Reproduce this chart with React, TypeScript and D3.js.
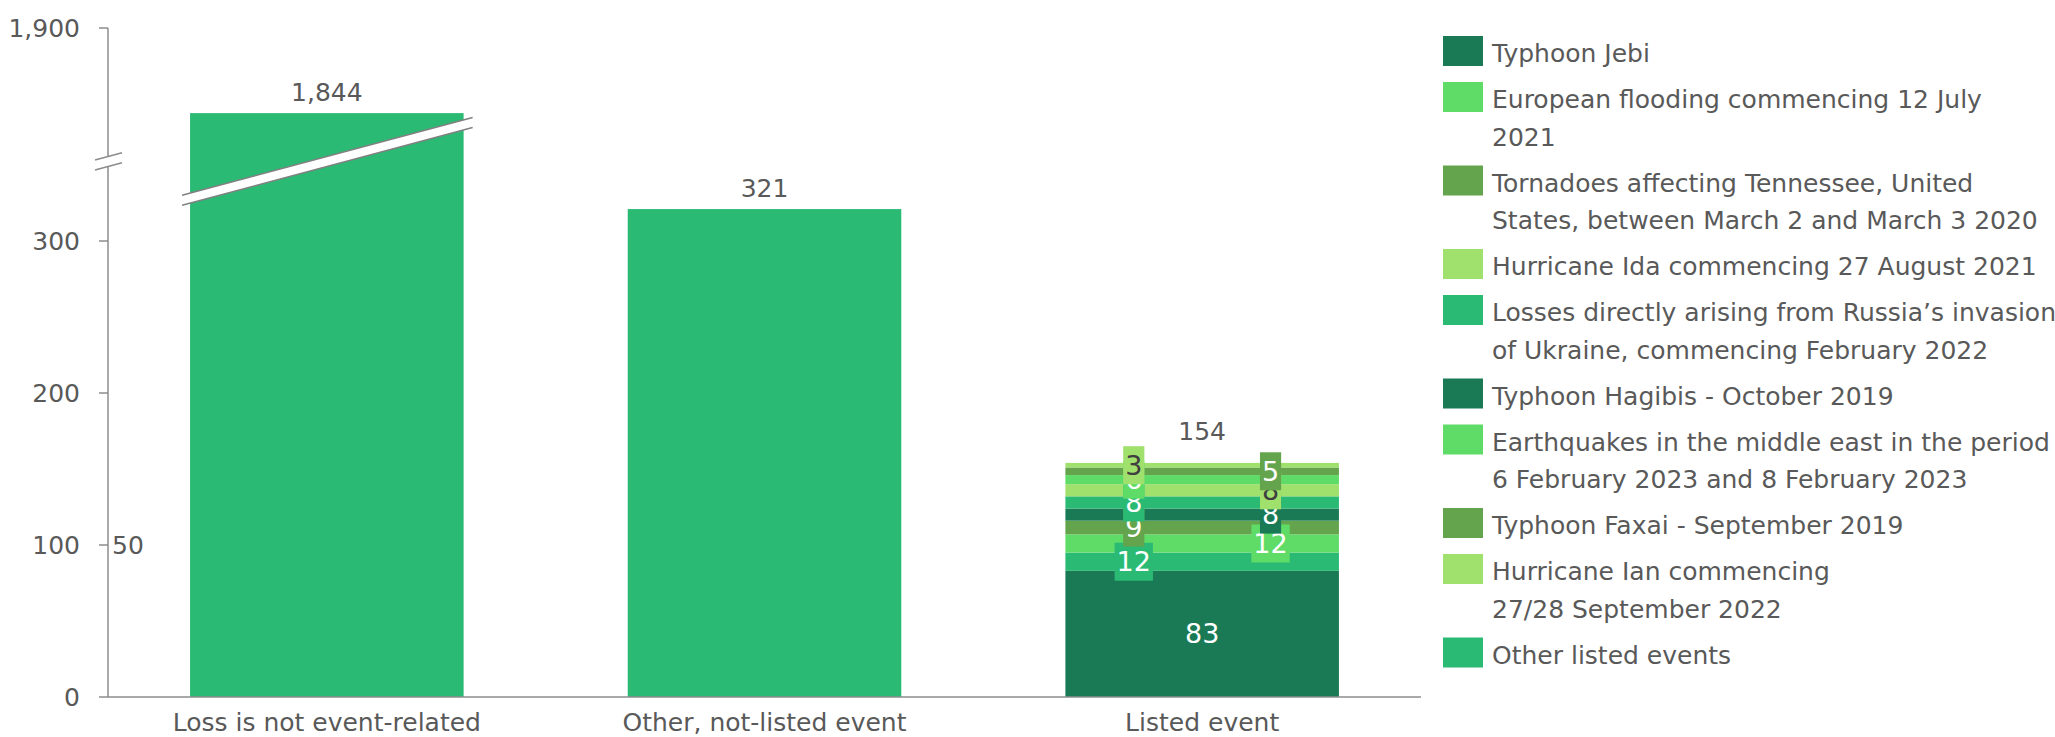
import React from "react";
import * as d3 from "d3";

const categories = ["Loss is not event-related", "Other, not-listed event", "Listed event"];
const simpleValues = [1844, 321];

const seriesNames = [
  "Typhoon Jebi",
  "European flooding",
  "Tornadoes Tennessee",
  "Hurricane Ida",
  "Russia Ukraine",
  "Typhoon Hagibis",
  "Earthquakes middle east",
  "Typhoon Faxai",
  "Hurricane Ian",
  "Other listed events",
];
const seriesLegendLines: string[][] = [
  ["Typhoon Jebi"],
  ["European flooding commencing 12 July", "2021"],
  ["Tornadoes affecting Tennessee, United", "States, between March 2 and March 3 2020"],
  ["Hurricane Ida commencing 27 August 2021"],
  ["Losses directly arising from Russia\u2019s invasion", "of Ukraine, commencing February 2022"],
  ["Typhoon Hagibis - October 2019"],
  ["Earthquakes in the middle east in the period", "6 February 2023 and 8 February 2023"],
  ["Typhoon Faxai - September 2019"],
  ["Hurricane Ian commencing", "27/28 September 2022"],
  ["Other listed events"],
];
const seriesValues = [83, 12, 9, 8, 8, 8, 6, 5, 3, 12];
const seriesColors = [
  "#1a7a56",
  "#5fdc68",
  "#64a44c",
  "#a0e06c",
  "#2aba74",
  "#1a7a56",
  "#5fdc68",
  "#64a44c",
  "#a0e06c",
  "#2aba74",
];
const seriesDarkText = [false, false, false, true, false, false, false, false, true, false];
const stackOrder = [
  "Typhoon Jebi",
  "Other listed events",
  "European flooding",
  "Tornadoes Tennessee",
  "Typhoon Hagibis",
  "Russia Ukraine",
  "Hurricane Ida",
  "Earthquakes middle east",
  "Typhoon Faxai",
  "Hurricane Ian",
];
const lowerTicks = [0, 100, 200, 300];
const upperTicks = [1900];
const strayLabel = "50";

const FONT = "'DejaVu Sans', sans-serif";
const TEXT = "#595959";
const AXIS = "#8c8c8c";
const BAR = "#2aba74";

export default function App() {
  const W = 2055;
  const H = 737;
  const axisX = 108;
  const baseY = 697;
  const breakValue = 1000;

  const x = d3.scaleBand<string>().domain(categories).range([axisX, 1421]).paddingInner(0.375).paddingOuter(0.1875);
  const yLow = d3.scaleLinear().domain([0, 300]).range([baseY, baseY - 456]);
  const yUp = d3.scaleLinear().domain([1800, 1900]).range([28 + 152, 28]);
  const yAny = (v: number) => (v > breakValue ? yUp(v) : yLow(v));
  const fmt = d3.format(",");
  const bw = x.bandwidth();

  const row: Record<string, number> = {};
  seriesNames.forEach((n, i) => (row[n] = seriesValues[i]));
  const stacked = d3.stack<Record<string, number>>().keys(stackOrder)([row]);
  const total = d3.sum(seriesValues);

  const breakY = 161.5;
  const slope = -0.268;

  // legend layout
  const legendX = 1443;
  let ly = 36;
  const legendItems = seriesNames.map((n, i) => {
    const lines = seriesLegendLines[i];
    const item = { y: ly, lines, color: seriesColors[i] };
    ly += 46 + 37.5 * (lines.length - 1);
    return item;
  });

  const b1x = x(categories[0])!;
  const b1c = b1x + bw / 2;
  const bandL = b1x - 8;
  const bandR = b1x + bw + 9;
  const yAt = (xx: number, off: number) => breakY + off + slope * (xx - b1c);

  const b3x = x(categories[2])!;
  const b3c = b3x + bw / 2;

  return (
    <svg
      width={W}
      height={H}
      style={{ position: "absolute", left: 0, top: 0, display: "block", background: "#fff" }}
      fontFamily={FONT}
    >
      {/* simple bars */}
      {simpleValues.map((v, i) => {
        const bx = x(categories[i])!;
        const top = yAny(v);
        return (
          <g key={i}>
            <rect x={bx} y={top} width={bw} height={baseY - top} fill={BAR} />
            <text x={bx + bw / 2} y={top - 12} textAnchor="middle" fontSize={25} fill={TEXT}>
              {fmt(v)}
            </text>
          </g>
        );
      })}

      {/* break band on first bar */}
      <polygon
        points={`${bandL},${yAt(bandL, -5)} ${bandR},${yAt(bandR, -5)} ${bandR},${yAt(bandR, 5)} ${bandL},${yAt(bandL, 5)}`}
        fill="#fff"
      />
      <line x1={bandL} y1={yAt(bandL, -5)} x2={bandR} y2={yAt(bandR, -5)} stroke="#808080" strokeWidth={1.5} />
      <line x1={bandL} y1={yAt(bandL, 5)} x2={bandR} y2={yAt(bandR, 5)} stroke="#808080" strokeWidth={1.5} />

      {/* stacked bar */}
      {stacked.map((s) => {
        const idx = seriesNames.indexOf(s.key);
        const [a, b] = s[0];
        return (
          <rect
            key={s.key}
            x={b3x}
            y={yLow(b)}
            width={bw}
            height={yLow(a) - yLow(b)}
            fill={seriesColors[idx]}
          />
        );
      })}
      {stacked.map((s, si) => {
        const idx = seriesNames.indexOf(s.key);
        const [a, b] = s[0];
        const v = b - a;
        const cy = (yLow(a) + yLow(b)) / 2;
        const cx = si === 0 ? b3c : si % 2 === 1 ? b3c - bw / 4 : b3c + bw / 4;
        const label = String(v);
        const fs = 27;
        const tw = label.length * 0.636 * fs + 4;
        return (
          <g key={s.key}>
            {si > 0 && <rect x={cx - tw / 2} y={cy - 19} width={tw} height={38} fill={seriesColors[idx]} />}
            <text
              x={cx}
              y={cy}
              textAnchor="middle"
              dominantBaseline="central"
              fontSize={fs}
              fill={seriesDarkText[idx] ? "#404040" : "#ffffff"}
            >
              {label}
            </text>
          </g>
        );
      })}
      <text x={b3c} y={yLow(total) - 23} textAnchor="middle" fontSize={25} fill={TEXT}>
        {fmt(total)}
      </text>

      {/* y axis */}
      <line x1={axisX} y1={yUp(1900)} x2={axisX} y2={156} stroke={AXIS} strokeWidth={1.5} />
      <line x1={axisX} y1={167} x2={axisX} y2={baseY} stroke={AXIS} strokeWidth={1.5} />
      <line x1={95} y1={156.5 + 13 * 0.268} x2={122} y2={156.5 - 14 * 0.268} stroke={AXIS} strokeWidth={1.5} />
      <line x1={95} y1={166.5 + 13 * 0.268} x2={122} y2={166.5 - 14 * 0.268} stroke={AXIS} strokeWidth={1.5} />
      {lowerTicks.map((t) => (
        <g key={t}>
          <line x1={axisX - 9} x2={axisX} y1={yLow(t)} y2={yLow(t)} stroke={AXIS} strokeWidth={1.5} />
          <text x={80} y={yLow(t)} textAnchor="end" dominantBaseline="central" fontSize={25} fill={TEXT}>
            {fmt(t)}
          </text>
        </g>
      ))}
      {upperTicks.map((t) => (
        <g key={t}>
          <line x1={axisX - 9} x2={axisX} y1={yUp(t)} y2={yUp(t)} stroke={AXIS} strokeWidth={1.5} />
          <text x={80} y={yUp(t)} textAnchor="end" dominantBaseline="central" fontSize={25} fill={TEXT}>
            {fmt(t)}
          </text>
        </g>
      ))}
      <text x={112} y={yLow(100)} dominantBaseline="central" fontSize={25} fill={TEXT}>
        {strayLabel}
      </text>

      {/* x axis */}
      <line x1={axisX} x2={1421} y1={baseY} y2={baseY} stroke={AXIS} strokeWidth={1.5} />
      {categories.map((c) => (
        <text key={c} x={x(c)! + bw / 2} y={731} textAnchor="middle" fontSize={25} fill={TEXT}>
          {c}
        </text>
      ))}

      {/* legend */}
      {legendItems.map((it, i) => (
        <g key={i}>
          <rect x={legendX} y={it.y} width={40} height={30} fill={it.color} />
          {it.lines.map((ln, j) => (
            <text key={j} x={1492} y={it.y + 26 + j * 37.5} fontSize={25} fill={TEXT}>
              {ln}
            </text>
          ))}
        </g>
      ))}
    </svg>
  );
}
